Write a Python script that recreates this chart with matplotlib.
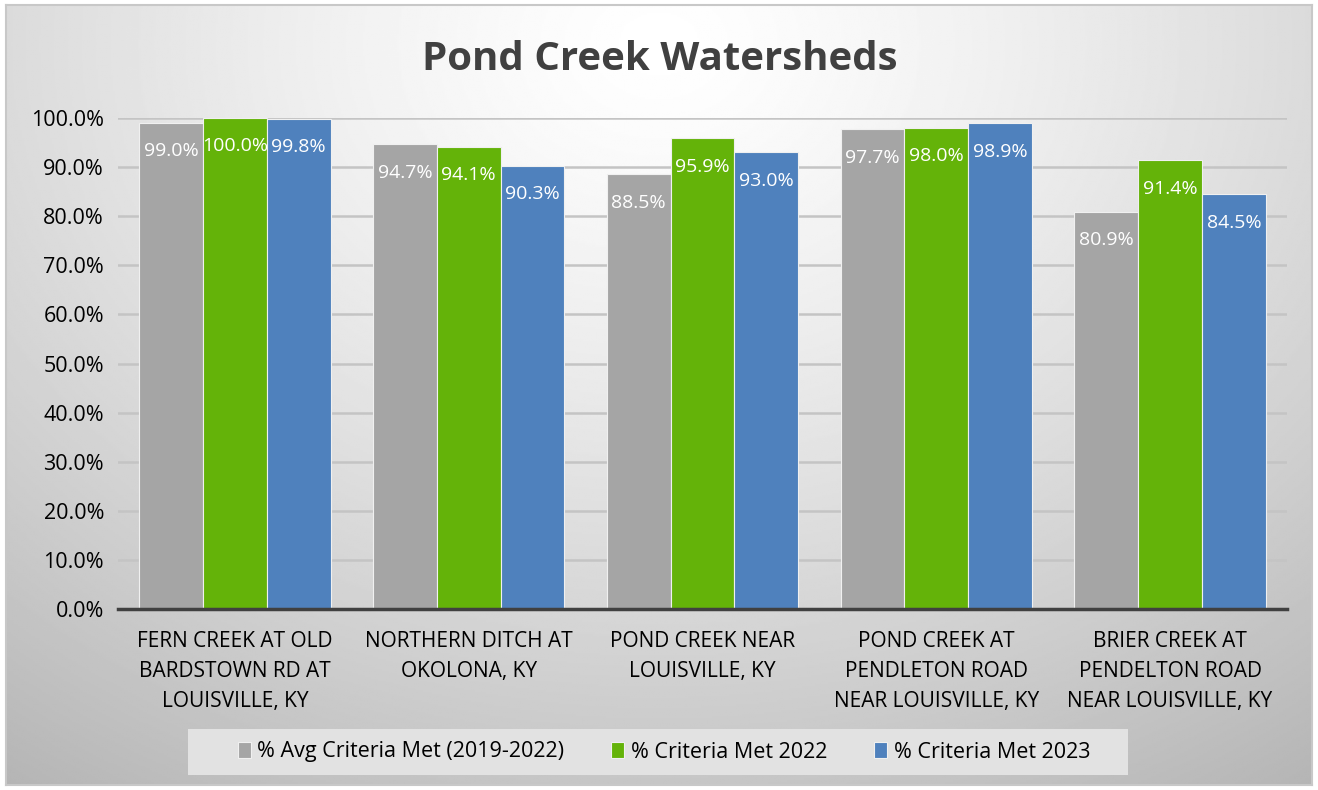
import numpy as np
import matplotlib.pyplot as plt
from matplotlib.patches import Rectangle

plt.rcParams['font.family'] = ['Open Sans', 'DejaVu Sans']

# Data
sites = ['FERN CREEK AT OLD\nBARDSTOWN RD AT\nLOUISVILLE, KY',
         'NORTHERN DITCH AT\nOKOLONA, KY',
         'POND CREEK NEAR\nLOUISVILLE, KY',
         'POND CREEK AT\nPENDLETON ROAD\nNEAR LOUISVILLE, KY',
         'BRIER CREEK AT\nPENDELTON ROAD\nNEAR LOUISVILLE, KY']
avg_2019_2022 = [0.990, 0.947, 0.885, 0.977, 0.809]
met_2022 = [1.000, 0.941, 0.959, 0.980, 0.914]
met_2023 = [0.998, 0.903, 0.930, 0.989, 0.845]
series_names = ['% Avg Criteria Met (2019-2022)', '% Criteria Met 2022', '% Criteria Met 2023']
colors = ['#a5a5a5', '#64b309', '#4f81bd']

fig = plt.figure(figsize=(13.18, 7.90), dpi=100)

# Background: radial gradient inside a thin gray frame
bg = fig.add_axes([6 / 1318, 5 / 790, 1306 / 1318, 780 / 790], zorder=0)
yy, xx = np.mgrid[0:1:400j, 0:1:700j]
r = np.sqrt(((xx - 0.5) / 0.75) ** 2 + ((yy - 0.05) / 1.0) ** 2)
shade = 1.0 - 0.24 * np.clip(r, 0, 1.2) ** 1.3
bg.imshow(shade, cmap='gray', vmin=0, vmax=1, aspect='auto', extent=[0, 1, 0, 1], origin='upper')
bg.set_xticks([])
bg.set_yticks([])
for s in bg.spines.values():
    s.set_color('#c8c8c8')
    s.set_linewidth(1.5)

ax = fig.add_axes([118 / 1318, 1 - 609 / 790, 1169 / 1318, (609 - 118) / 790], zorder=1)
ax.patch.set_alpha(0)

x = np.arange(len(sites))
w = 0.273
for i, (vals, name, c) in enumerate(zip([avg_2019_2022, met_2022, met_2023], series_names, colors)):
    pos = x + (i - 1) * w
    ax.bar(pos, vals, w, color=c, edgecolor='#f0f0f0', linewidth=0.8,
           label=name, zorder=3, clip_on=False)
    for xp, v in zip(pos, vals):
        ax.text(xp, v - 0.058, f'{v * 100:.1f}%', ha='center', va='center',
                color='white', fontsize=14, zorder=4)

ax.set_xlim(-0.5, len(sites) - 0.5)
ax.set_ylim(0, 1.0)
ax.set_yticks(np.arange(0, 1.01, 0.1))
ax.set_yticklabels([f'{t * 100:.1f}%' for t in np.arange(0, 1.01, 0.1)])
ax.yaxis.grid(True, color='#c4c4c4', linewidth=1.8, zorder=0)
ax.set_xticks(x)
ax.set_xticklabels(sites, fontsize=15, linespacing=1.55, va='top')
ax.tick_params(axis='x', length=0, pad=16)
ax.tick_params(axis='y', length=0, labelsize=15.5, pad=10)
for s in ['top', 'right', 'left']:
    ax.spines[s].set_visible(False)
ax.spines['bottom'].set_color('#404040')
ax.spines['bottom'].set_linewidth(2.5)
ax.spines['bottom'].set_zorder(5)

fig.text(660 / 1318, 1 - 59 / 790, 'Pond Creek Watersheds', ha='center', va='center',
         fontsize=29, fontweight='bold', color='#404040')

# Legend box
fig.patches.append(Rectangle((188 / 1318, 1 - 775 / 790), 940 / 1318, 46 / 790,
                             transform=fig.transFigure, facecolor='#e2e2e2',
                             edgecolor='none', zorder=1))
leg = fig.legend(loc='center', bbox_to_anchor=(664 / 1318, 1 - 752 / 790), ncol=3,
                 frameon=False, fontsize=15.5, handlelength=0.6, handleheight=0.8,
                 handletextpad=0.3, columnspacing=2.2)
leg.set_zorder(2)

fig.savefig('out.png', dpi=100)
